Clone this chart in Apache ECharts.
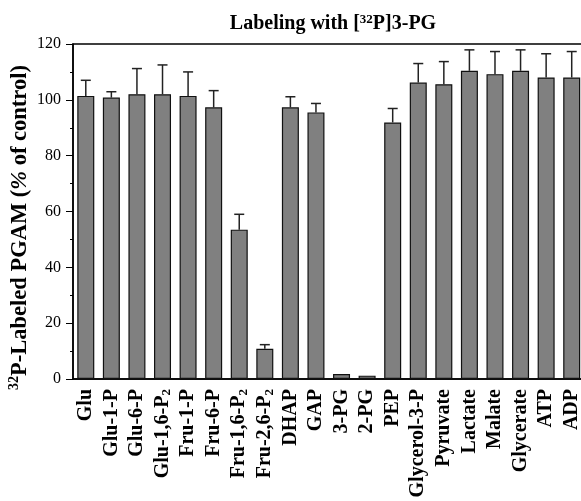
<!DOCTYPE html>
<html>
<head>
<meta charset="utf-8">
<script src="https://cdn.jsdelivr.net/npm/echarts@6/dist/echarts.min.js"></script>
<style>html,body{margin:0;padding:0;background:#fff}#c{width:581px;height:501px}</style>
</head>
<body>
<div id="c"></div>
<script>
var categories = ['Glu','Glu-1-P','Glu-6-P','Glu-1,6-P2','Fru-1-P','Fru-6-P','Fru-1,6-P2','Fru-2,6-P2','DHAP','GAP','3-PG','2-PG','PEP','Glycerol-3-P','Pyruvate','Lactate','Malate','Glycerate','ATP','ADP'];
var means = [101.4,100.8,102.0,102.0,101.4,97.3,53.5,10.8,97.3,95.5,1.8,1.2,91.9,106.2,105.6,110.4,109.2,110.4,108.0,108.0];
var errors = [5.6,2.1,9.2,10.5,8.6,6.0,5.5,1.5,3.8,3.2,0,0,5.0,6.8,8.1,7.5,8.1,7.5,8.5,9.3];
var yMin = 0, yMax = 120, yStep = 20;

var FONT = '"Liberation Serif","Times New Roman",serif';
var chart = echarts.init(document.getElementById('c'));
var errData = means.map(function (m, i) { return [i, m, m + errors[i]]; });

chart.setOption({
  animation: false,
  title: {
    text: 'Labeling with [{sup|32}P]3-PG',
    left: 328, top: 8, textAlign: 'center',
    textStyle: {
      fontFamily: FONT, fontWeight: 'bold', fontSize: 20, color: '#000', lineHeight: 22,
      rich: { sup: { fontFamily: FONT, fontWeight: 'bold', fontSize: 13, lineHeight: 10, verticalAlign: 'top', color: '#000' } }
    }
  },
  grid: { left: 73, right: -3.5, top: 44, bottom: 122, outerBoundsMode: 'none', containLabel: false, show: true, borderColor: '#000', borderWidth: 1.5, backgroundColor: 'transparent' },
  xAxis: {
    type: 'category', data: categories,
    axisLine: { lineStyle: { color: '#000', width: 1.5 } },
    axisTick: { alignWithLabel: true, length: 6, lineStyle: { color: '#000', width: 1 } },
    axisLabel: {
      interval: 0, rotate: 90, margin: 10, color: '#000',
      fontFamily: FONT, fontWeight: 'bold', fontSize: 20, lineHeight: 22,
      formatter: function (v) { return v.replace(/P2$/, 'P{sub|2}'); },
      rich: { sub: { fontFamily: FONT, fontWeight: 'bold', fontSize: 13, lineHeight: 14, verticalAlign: 'bottom', color: '#000' } }
    }
  },
  yAxis: {
    type: 'value', min: yMin, max: yMax, interval: yStep,
    name: '{sup|32}P-Labeled PGAM ({it|%} of control)',
    nameLocation: 'middle', nameGap: 40, nameMoveOverlap: false,
    nameTextStyle: {
      fontFamily: FONT, fontWeight: 'bold', fontSize: 22.5, color: '#000', lineHeight: 26,
      padding: [0, 32, 0, 0],
      rich: {
        sup: { fontFamily: FONT, fontWeight: 'bold', fontSize: 14, lineHeight: 12, verticalAlign: 'top', color: '#000' },
        it: { fontFamily: FONT, fontWeight: 'bold', fontStyle: 'italic', fontSize: 22.5, lineHeight: 26, color: '#000' }
      }
    },
    axisLine: { show: true, lineStyle: { color: '#000', width: 1.5 } },
    axisTick: { show: true, length: 7, lineStyle: { color: '#000', width: 1 } },
    minorTick: { show: true, splitNumber: 2, length: 3, lineStyle: { color: '#000', width: 1 } },
    splitLine: { show: false },
    axisLabel: { margin: 12, color: '#000', fontFamily: FONT, fontSize: 16 }
  },
  series: [
    {
      type: 'bar', data: means, barWidth: 17,
      itemStyle: { color: '#808080', borderColor: '#111', borderWidth: 1.2 }
    },
    {
      type: 'custom', data: errData, z: 1,
      renderItem: function (params, api) {
        var x = api.value(0);
        var top = api.coord([x, api.value(2)]);
        var base = api.coord([x, api.value(1)]);
        if (api.value(2) <= api.value(1)) return null;
        var cw = 5;
        return {
          type: 'group',
          children: [
            { type: 'line', shape: { x1: base[0], y1: base[1], x2: top[0], y2: top[1] }, style: { stroke: '#222', lineWidth: 1.5 } },
            { type: 'line', shape: { x1: top[0] - cw, y1: top[1], x2: top[0] + cw, y2: top[1] }, style: { stroke: '#222', lineWidth: 1.5 } }
          ]
        };
      }
    }
  ]
});
</script>
</body>
</html>
